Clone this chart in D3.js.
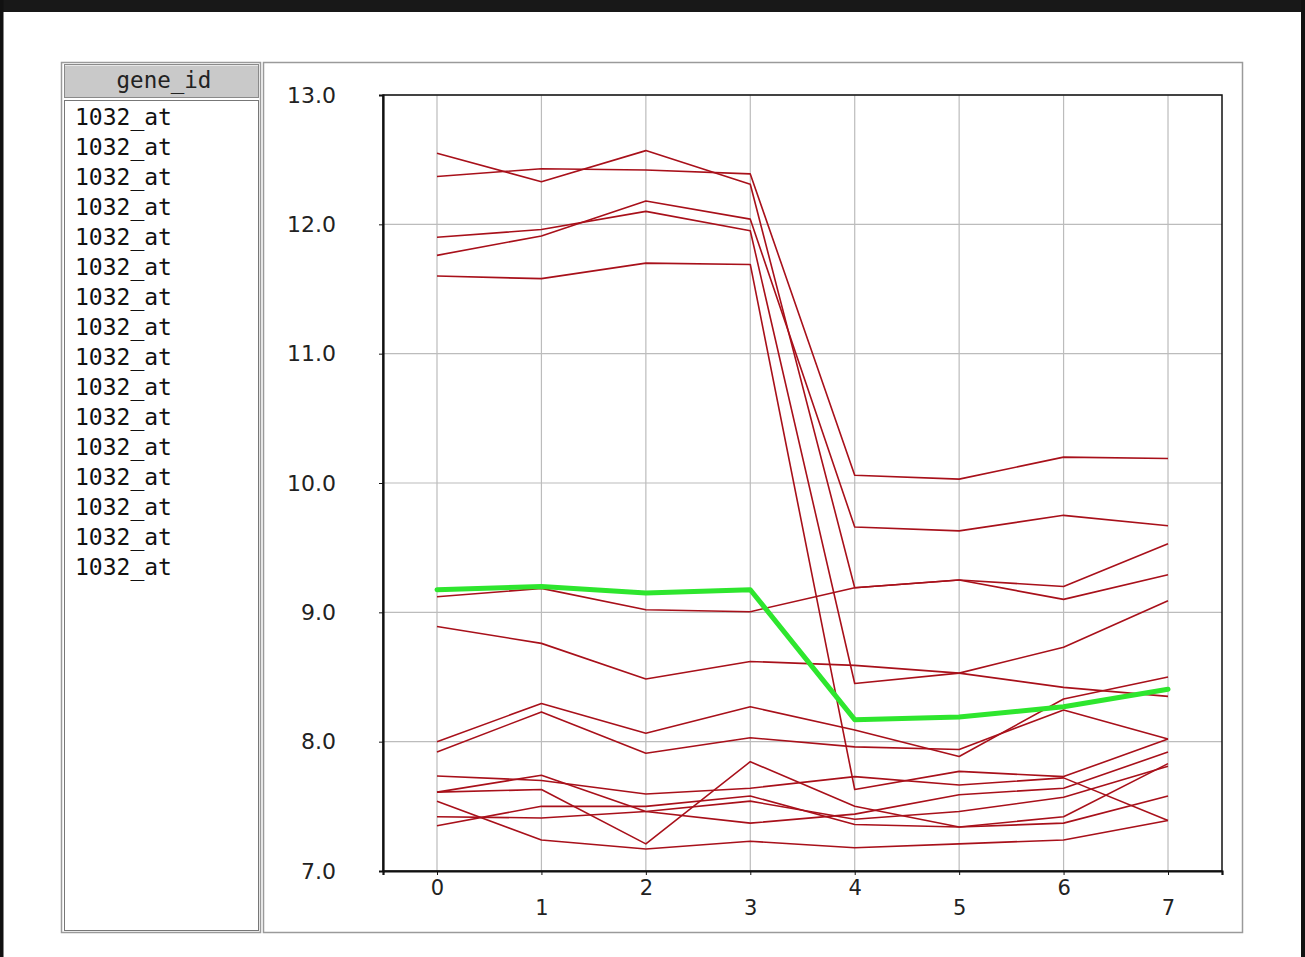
<!DOCTYPE html>
<html>
<head>
<meta charset="utf-8">
<script src="https://cdn.jsdelivr.net/npm/d3@7"></script>
<style>
  html, body { margin: 0; padding: 0; background: #fff; }
  svg { display: block; }
</style>
</head>
<body>
<svg id="chart" width="1305" height="957"></svg>
<script>
// Sample index along the x axis
const timepoints = [0, 1, 2, 3, 4, 5, 6, 7];
// Y axis tick values
const yTickValues = [7, 8, 9, 10, 11, 12, 13];
// Identifiers listed in the side table
const geneIds = ["1032_at", "1032_at", "1032_at", "1032_at", "1032_at", "1032_at", "1032_at", "1032_at",
                 "1032_at", "1032_at", "1032_at", "1032_at", "1032_at", "1032_at", "1032_at", "1032_at"];

// Expression profiles (one value per time point)
const profileA = [12.55, 12.33, 12.57, 12.31, 9.19, 9.25, 9.10, 9.29];
const profileB = [12.37, 12.43, 12.42, 12.39, 10.06, 10.03, 10.20, 10.19];
const profileC = [11.90, 11.96, 12.10, 11.95, 8.45, 8.53, 8.73, 9.09];
const profileD = [11.76, 11.91, 12.18, 12.04, 9.66, 9.63, 9.75, 9.67];
const profileE = [11.60, 11.58, 11.70, 11.69, 7.63, 7.77, 7.73, 8.02];
const profileF = [9.12, 9.185, 9.02, 9.005, 9.19, 9.25, 9.20, 9.53];
const profileG = [8.89, 8.76, 8.485, 8.62, 8.59, 8.53, 8.42, 8.35];
const profileH = [8.00, 8.295, 8.065, 8.27, 8.09, 7.885, 8.33, 8.50];
const profileI = [7.92, 8.23, 7.91, 8.03, 7.96, 7.94, 8.245, 8.02];
const profileJ = [7.735, 7.70, 7.595, 7.64, 7.73, 7.665, 7.72, 7.39];
const profileK = [7.61, 7.63, 7.21, 7.845, 7.50, 7.34, 7.42, 7.83];
const profileL = [7.61, 7.74, 7.46, 7.37, 7.44, 7.59, 7.64, 7.92];
const profileM = [7.54, 7.24, 7.17, 7.23, 7.18, 7.21, 7.24, 7.39];
const profileN = [7.42, 7.41, 7.46, 7.54, 7.40, 7.46, 7.57, 7.81];
const profileO = [7.35, 7.50, 7.50, 7.58, 7.36, 7.34, 7.37, 7.58];
// Selected profile, drawn on top in green
const selectedProfile = [9.175, 9.20, 9.15, 9.175, 8.17, 8.19, 8.27, 8.405];

const profiles = [profileA, profileB, profileC, profileD, profileE, profileF, profileG, profileH,
                  profileI, profileJ, profileK, profileL, profileM, profileN, profileO];

const svg = d3.select("#chart");
const W = 1305, H = 957;

// Window chrome
svg.append("rect").attr("x", 0).attr("y", 0).attr("width", W).attr("height", H).attr("fill", "#fff");
svg.append("rect").attr("x", 0).attr("y", 0).attr("width", W).attr("height", 12).attr("fill", "#181818");
svg.append("rect").attr("x", 0).attr("y", 0).attr("width", 3.5).attr("height", H).attr("fill", "#111");
svg.append("rect").attr("x", W - 4).attr("y", 0).attr("width", 4).attr("height", H).attr("fill", "#111");

// ---- Side table with gene ids ----
const table = svg.append("g");
table.append("rect").attr("x", 61.5).attr("y", 62.5).attr("width", 199).attr("height", 870)
  .attr("fill", "#fff").attr("stroke", "#9a9a9a").attr("stroke-width", 1.5);
table.append("rect").attr("x", 64.5).attr("y", 64.5).attr("width", 194).attr("height", 33)
  .attr("fill", "#c9c9c9").attr("stroke", "#8a8a8a").attr("stroke-width", 1);
table.append("line").attr("x1", 65).attr("x2", 258).attr("y1", 65.5).attr("y2", 65.5)
  .attr("stroke", "#e8e8e8");
table.append("text").attr("x", 164).attr("y", 88).attr("text-anchor", "middle")
  .attr("font-family", "DejaVu Sans Mono").attr("font-size", 22.5).attr("fill", "#222")
  .text("gene_id");
table.append("rect").attr("x", 64.5).attr("y", 100.5).attr("width", 194).attr("height", 830)
  .attr("fill", "#fff").attr("stroke", "#777").attr("stroke-width", 1);
table.selectAll("text.gid").data(geneIds).join("text").attr("class", "gid")
  .attr("x", 75).attr("y", (d, i) => 125 + i * 30)
  .attr("font-family", "DejaVu Sans Mono").attr("font-size", 23).attr("fill", "#111")
  .text(d => d);

// ---- Chart panel ----
svg.append("rect").attr("x", 263.5).attr("y", 62.5).attr("width", 979).attr("height", 870)
  .attr("fill", "#fff").attr("stroke", "#9a9a9a").attr("stroke-width", 1.5);

const plot = { left: 383, right: 1222, top: 95, bottom: 871 };
const x = d3.scaleLinear().domain([-0.517, 7.517]).range([plot.left, plot.right]);
const y = d3.scaleLinear().domain([7, 13]).range([plot.bottom, plot.top]);

// Grid lines
const grid = svg.append("g");
grid.selectAll("line.v").data(timepoints).join("line").attr("class", "v")
  .attr("x1", d => x(d)).attr("x2", d => x(d)).attr("y1", plot.top).attr("y2", plot.bottom)
  .attr("stroke", "#bcbcbc").attr("stroke-width", 1.2);
grid.selectAll("line.h").data(yTickValues).join("line").attr("class", "h")
  .attr("x1", plot.left).attr("x2", plot.right).attr("y1", d => y(d)).attr("y2", d => y(d))
  .attr("stroke", "#bcbcbc").attr("stroke-width", 1.2);

// Profiles
const line = d3.line().x((d, i) => x(timepoints[i])).y(d => y(d));
svg.append("g").selectAll("path").data(profiles).join("path")
  .attr("d", line).attr("fill", "none")
  .attr("stroke", "#a8101a").attr("stroke-width", 1.6).attr("stroke-linejoin", "round");
svg.append("path").datum(selectedProfile).attr("d", line).attr("fill", "none")
  .attr("stroke", "#2ee62e").attr("stroke-width", 5).attr("stroke-linejoin", "round")
  .attr("stroke-linecap", "round");

// Plot frame
svg.append("rect").attr("x", plot.left).attr("y", plot.top)
  .attr("width", plot.right - plot.left).attr("height", plot.bottom - plot.top)
  .attr("fill", "none").attr("stroke", "#111").attr("stroke-width", 1.5);

// Axes
const yAxis = d3.axisLeft(y).tickValues(yTickValues).tickFormat(d3.format(".1f"))
  .tickSize(4).tickPadding(43);
const gy = svg.append("g").attr("transform", `translate(${plot.left},0)`).call(yAxis);
gy.select(".domain").attr("stroke", "#111").attr("stroke-width", 2.2);
gy.selectAll(".tick line").attr("stroke", "#111");
gy.selectAll(".tick text").attr("font-family", "DejaVu Sans").attr("font-size", 22)
  .attr("fill", "#222");

const xAxis = d3.axisBottom(x).tickValues(timepoints).tickFormat(d3.format("d")).tickSize(4);
const gx = svg.append("g").attr("transform", `translate(0,${plot.bottom})`).call(xAxis);
gx.select(".domain").attr("stroke", "#111").attr("stroke-width", 2.2);
gx.selectAll(".tick line").attr("stroke", "#111");
gx.selectAll(".tick text").attr("font-family", "DejaVu Sans").attr("font-size", 21)
  .attr("fill", "#222")
  .attr("y", d => (d % 2 ? 29 : 9));
</script>
</body>
</html>
